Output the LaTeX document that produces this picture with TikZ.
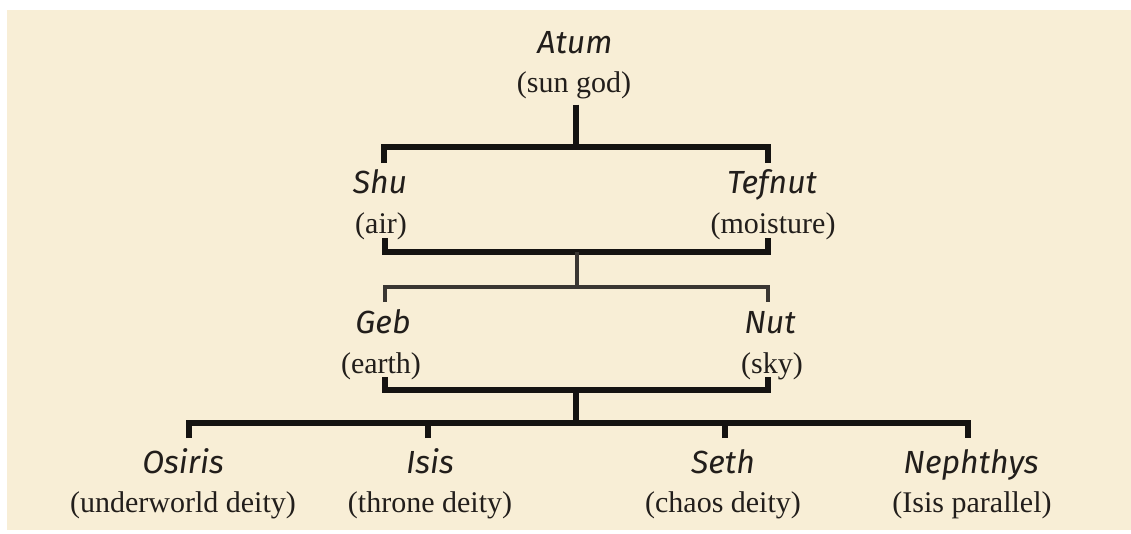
\documentclass[tikz,border=0pt]{standalone}
\usepackage{fontspec}
\setmainfont{Liberation Serif}
\newfontfamily\namefont{Fira Sans}
\definecolor{paper}{HTML}{F8EED6}
\definecolor{barcol}{HTML}{151311}
\definecolor{midbar}{HTML}{3A3632}
\definecolor{inkcol}{HTML}{221E1B}
\begin{document}
\begin{tikzpicture}[x=1pt,y=-1pt,
  godname/.style={font=\namefont\itshape\fontsize{32}{36}\selectfont, text=inkcol, inner sep=0pt, anchor=base},
  godrole/.style={font=\fontsize{30}{34}\selectfont, text=inkcol, inner sep=0pt, anchor=base},
  bar/.style={line width=5.5pt, draw=barcol, line join=miter, line cap=butt},
  thinbar/.style={line width=4.5pt, draw=midbar, line join=miter, line cap=butt}]
\useasboundingbox (0,0) rectangle (1131,533);
\fill[white] (0,0) rectangle (1131,533);
\fill[paper] (7,10) rectangle (1131,530);

% names and roles
\node[godname] (atum) at (575,53) {Atum};
\node[godrole] (atumr) at (574,92) {(sun god)};
\node[godname] (shu) at (380,193) {Shu};
\node[godrole] (shur) at (381,233) {(air)};
\node[godname] (tefnut) at (772,193) {Tefnut};
\node[godrole] (tefnutr) at (773,233) {(moisture)};
\node[godname] (geb) at (383,333) {Geb};
\node[godrole] (gebr) at (381,373) {(earth)};
\node[godname] (nut) at (770,333) {Nut};
\node[godrole] (nutr) at (772,373) {(sky)};
\node[godname] (osiris) at (183,473) {Osiris};
\node[godrole] (osirisr) at (183,512) {(underworld deity)};
\node[godname] (isis) at (430,473) {Isis};
\node[godrole] (isisr) at (430,512) {(throne deity)};
\node[godname] (seth) at (723,473) {Seth};
\node[godrole] (sethr) at (723,512) {(chaos deity)};
\node[godname] (nephthys) at (971,473) {Nephthys};
\node[godrole] (nephthysr) at (972,512) {(Isis parallel)};

% junction coordinates
\coordinate (j1) at (576,147);
\coordinate (shuT) at (384,163);
\coordinate (tefT) at (768,163);
\coordinate (j2) at (577,252);
\coordinate (shuB) at (385,238);
\coordinate (tefB) at (768,238);
\coordinate (j3) at (577,287);
\coordinate (gebT) at (385,302);
\coordinate (nutT) at (768,302);
\coordinate (j4) at (576,390);
\coordinate (gebB) at (385,377);
\coordinate (nutB) at (768,377);
\coordinate (j5) at (576,423);
\coordinate (osT) at (189,438);
\coordinate (isT) at (428,438);
\coordinate (seT) at (725,438);
\coordinate (neT) at (968,438);

% connectors
\draw[bar] ([yshift=-6pt]atumr.south -| j1) -- (j1);
\draw[bar] (shuT) |- (j1) -| (tefT);
\draw[bar] (shuB) |- (j2) -| (tefB);
\draw[thinbar] (j2) -- (j3);
\draw[thinbar] (gebT) |- (j3) -| (nutT);
\draw[bar] (gebB) |- (j4) -| (nutB);
\draw[bar] (j4) -- (j5);
\draw[bar] (osT) |- (j5) -| (neT);
\draw[bar] (isT) -- (isT |- j5);
\draw[bar] (seT) -- (seT |- j5);
\end{tikzpicture}
\end{document}
